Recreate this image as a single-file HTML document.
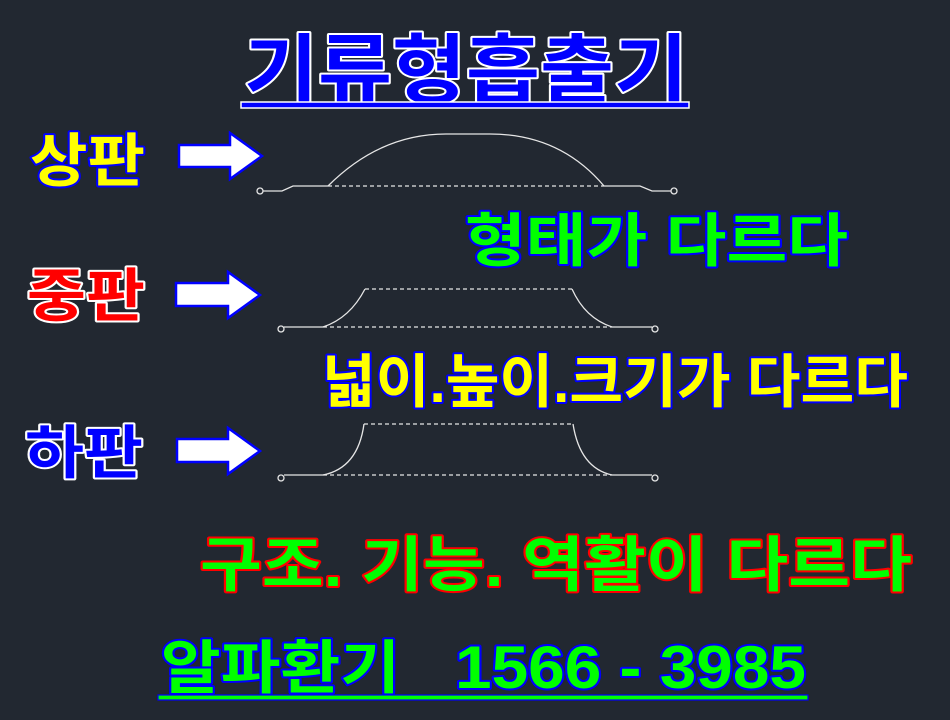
<!DOCTYPE html>
<html><head><meta charset="utf-8"><style>
html,body{margin:0;padding:0;background:#222831;}
svg{display:block}
text{font-family:"Liberation Sans","Noto Sans CJK KR",sans-serif;font-weight:bold;paint-order:stroke fill;stroke-linejoin:round}
</style></head><body>
<svg width="950" height="720" viewBox="0 0 950 720" xmlns="http://www.w3.org/2000/svg">
<rect width="950" height="720" fill="#222831"/>
<text x="244" y="97" font-size="76" fill="#0000ff" stroke="#fff" stroke-width="4" textLength="444" lengthAdjust="spacingAndGlyphs">기류형흡출기</text>
<rect x="241" y="102" width="448" height="6" fill="#0000ff" stroke="#fff" stroke-width="1.5"/>
<text x="30" y="181" font-size="58" fill="#ffff00" stroke="#0000ff" stroke-width="4" textLength="115" lengthAdjust="spacingAndGlyphs">상판</text>
<text x="27" y="316" font-size="58" fill="#ff0000" stroke="#fff" stroke-width="4" textLength="118" lengthAdjust="spacingAndGlyphs">중판</text>
<text x="25" y="473" font-size="58" fill="#0000ff" stroke="#fff" stroke-width="4" textLength="118" lengthAdjust="spacingAndGlyphs">하판</text>
<g fill="#fff" stroke="#0000ff" stroke-width="2.5">
<polygon points="179,145 230,145 230,133 262,156 230,179 230,167 179,167"/>
<polygon points="176,283 228,283 228,272 260,295 228,318 228,306 176,306"/>
<polygon points="177,439 228,439 228,428 260,451 228,474 228,462 177,462"/>
</g>
<g fill="none" stroke="#e6e6e6" stroke-width="1.3">
<circle cx="260" cy="191" r="3"/><circle cx="674" cy="191" r="3"/>
<polyline points="263,191 282,191 293,186 328,186"/>
<path d="M328,186 Q380,134 446,134 L490,134 Q560,134 604,186"/>
<polyline points="604,186 640,186 652,191 671,191"/>
<line x1="328" y1="186" x2="604" y2="186" stroke-dasharray="4,3"/>
<circle cx="281" cy="329" r="3"/><circle cx="655" cy="329" r="3"/>
<line x1="284" y1="327" x2="323" y2="327"/>
<path d="M323,327 Q350,318 365,289"/>
<line x1="365" y1="289" x2="572" y2="289" stroke-dasharray="4,3"/>
<path d="M572,289 Q585,318 612,327"/>
<line x1="612" y1="327" x2="652" y2="327"/>
<line x1="323" y1="327" x2="612" y2="327" stroke-dasharray="4,3"/>
<circle cx="281" cy="478" r="3"/><circle cx="655" cy="478" r="3"/>
<line x1="284" y1="475" x2="323" y2="475"/>
<path d="M323,475 Q358,468 364,424"/>
<line x1="364" y1="424" x2="573" y2="424" stroke-dasharray="4,3"/>
<path d="M573,424 Q580,468 612,475"/>
<line x1="612" y1="475" x2="652" y2="475"/>
<line x1="323" y1="475" x2="612" y2="475" stroke-dasharray="4,3"/>
</g>
<text x="465" y="261" font-size="58" fill="#00ff00" stroke="#0000ff" stroke-width="4" textLength="383" lengthAdjust="spacingAndGlyphs">형태가 다르다</text>
<text x="322" y="402" font-size="58" fill="#ffff00" stroke="#0000ff" stroke-width="4" textLength="586" lengthAdjust="spacingAndGlyphs">넓이.높이.크기가 다르다</text>
<text x="200" y="586" font-size="60" fill="#00ff00" stroke="#ff0000" stroke-width="4" textLength="712" lengthAdjust="spacingAndGlyphs">구조. 기능. 역활이 다르다</text>
<text x="161" y="688" font-size="58" fill="#00ff00" stroke="#0000ff" stroke-width="4" textLength="239" lengthAdjust="spacingAndGlyphs">알파환기</text>
<text x="455" y="688" font-size="60" fill="#00ff00" stroke="#0000ff" stroke-width="4" textLength="351" lengthAdjust="spacingAndGlyphs">1566 - 3985</text>
<rect x="158" y="695" width="650" height="5" fill="#00ff00" stroke="#0000ff" stroke-width="1.2"/>
</svg>
</body></html>
